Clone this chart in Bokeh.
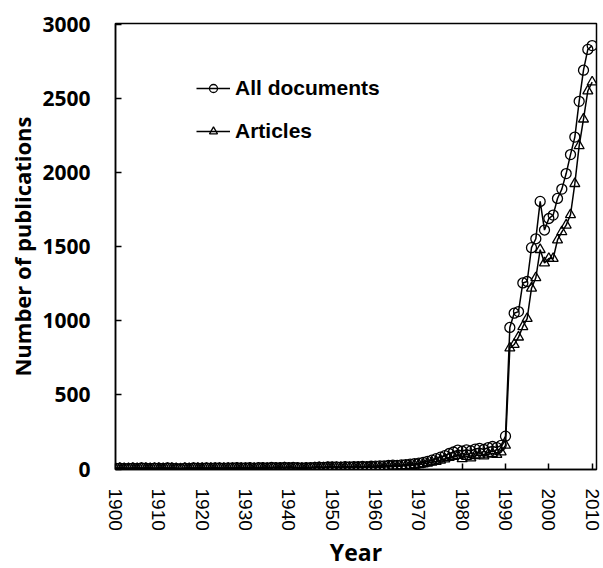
import math
from bokeh.plotting import figure
from bokeh.models import Range1d, Legend, LegendItem, FixedTicker, Title
from bokeh.embed import file_html
from bokeh.resources import INLINE

years = list(range(1900, 2011))

all_docs = [
    5, 6, 4, 5, 6, 5, 7, 6, 5, 6,
    6, 5, 7, 6, 4, 2, 6, 5, 7, 6,
    6, 7, 6, 8, 7, 6, 8, 7, 9, 8,
    8, 9, 7, 10, 9, 8, 11, 10, 9, 12,
    10, 11, 9, 8, 9, 10, 12, 13, 12, 14,
    14, 15, 13, 16, 15, 17, 16, 18, 17, 19,
    20, 22, 21, 24, 26, 25, 28, 30, 33, 36,
    40, 45, 52, 60, 70, 80, 90, 105, 115, 128,
    120, 130, 122, 135, 140, 132, 145, 152, 145, 160,
    222, 955, 1051, 1062, 1255, 1265, 1493, 1553, 1805, 1612,
    1690, 1713, 1825, 1888, 1993, 2121, 2239, 2480, 2690, 2830,
    2856,
]

articles = [
    3, 4, 3, 3, 4, 3, 5, 4, 3, 4,
    4, 3, 5, 4, 3, 1, 4, 3, 5, 4,
    4, 5, 4, 5, 5, 4, 5, 5, 6, 5,
    5, 6, 5, 7, 6, 5, 7, 7, 6, 8,
    7, 7, 6, 5, 6, 7, 8, 9, 8, 10,
    10, 10, 9, 11, 10, 12, 11, 12, 12, 13,
    12, 14, 13, 16, 18, 17, 20, 22, 24, 27,
    30, 34, 40, 46, 52, 60, 68, 78, 85, 92,
    70, 85, 75, 90, 95, 88, 100, 105, 98, 115,
    160, 816, 840, 890, 960, 1015, 1220, 1290, 1480, 1390,
    1420, 1420, 1545, 1600, 1645, 1715, 1925, 2180, 2360, 2550,
    2610,
]

x_ticks = list(range(1900, 2011, 10))
y_ticks = list(range(0, 3001, 500))
x_title = "Year"
y_title = "Number of publications"

p = figure(width=603, height=568, output_backend="svg", toolbar_location=None,
           x_range=Range1d(1900, 2011), y_range=Range1d(-3, 3005),
           min_border_left=115, min_border_right=7, min_border_top=23, min_border_bottom=99)

p.grid.visible = False
p.background_fill_color = "white"
p.border_fill_color = "white"
p.outline_line_color = "black"
p.outline_line_width = 1.5

l1 = p.line(years, all_docs, line_color="black", line_width=1.5)
s1 = p.scatter(years, all_docs, marker="circle", size=10, fill_color=None,
               line_color="black", line_width=1.3)
l2 = p.line(years, articles, line_color="black", line_width=1.5)
s2 = p.scatter(years, articles, marker="triangle", size=10, fill_color=None,
               line_color="black", line_width=1.3)

# axes
p.xaxis.ticker = FixedTicker(ticks=x_ticks)
p.yaxis.ticker = FixedTicker(ticks=y_ticks)
for ax in (p.xaxis[0], p.yaxis[0]):
    ax.major_tick_in = 6
    ax.major_tick_out = 0
    ax.minor_tick_line_color = None
    ax.axis_line_color = "black"
    ax.axis_line_width = 1.5
    ax.major_tick_line_color = "black"
    ax.major_tick_line_width = 1.5

p.xaxis.major_label_orientation = -math.pi / 2
p.xaxis.major_label_text_font = "Liberation Sans"
p.xaxis.major_label_text_font_size = "19px"
p.xaxis.major_label_text_color = "black"
p.xaxis.major_label_standoff = 19

# x title placed below the axis
p.add_layout(Title(text=x_title, align="center", offset=12, standoff=1,
                   vertical_align="bottom",
                   text_font="Open Sans", text_font_style="bold",
                   text_font_size="23px", text_color="black"), "below")

p.yaxis.major_label_text_font = "Open Sans"
p.yaxis.major_label_text_font_style = "bold"
p.yaxis.major_label_text_font_size = "21px"
p.yaxis.major_label_text_color = "black"
p.yaxis.major_label_standoff = 25
p.yaxis.axis_label = y_title
p.yaxis.axis_label_text_font = "Open Sans"
p.yaxis.axis_label_text_font_style = "bold"
p.yaxis.axis_label_text_font_size = "22px"
p.yaxis.axis_label_text_color = "black"
p.yaxis.axis_label_standoff = 2

legend = Legend(items=[
    LegendItem(label="All documents", renderers=[l1, s1]),
    LegendItem(label="Articles", renderers=[l2, s2]),
], location=(81, 326))
legend.background_fill_alpha = 0
legend.border_line_color = None
legend.padding = 0
legend.margin = 0
legend.spacing = 19
legend.glyph_width = 34
legend.glyph_height = 20
legend.label_height = 20
legend.label_standoff = 5
legend.label_text_font = "Liberation Sans"
legend.label_text_font_style = "bold"
legend.label_text_font_size = "21px"
legend.label_text_color = "black"
p.add_layout(legend, "center")

open("out.html", "w").write(file_html(p, INLINE))
